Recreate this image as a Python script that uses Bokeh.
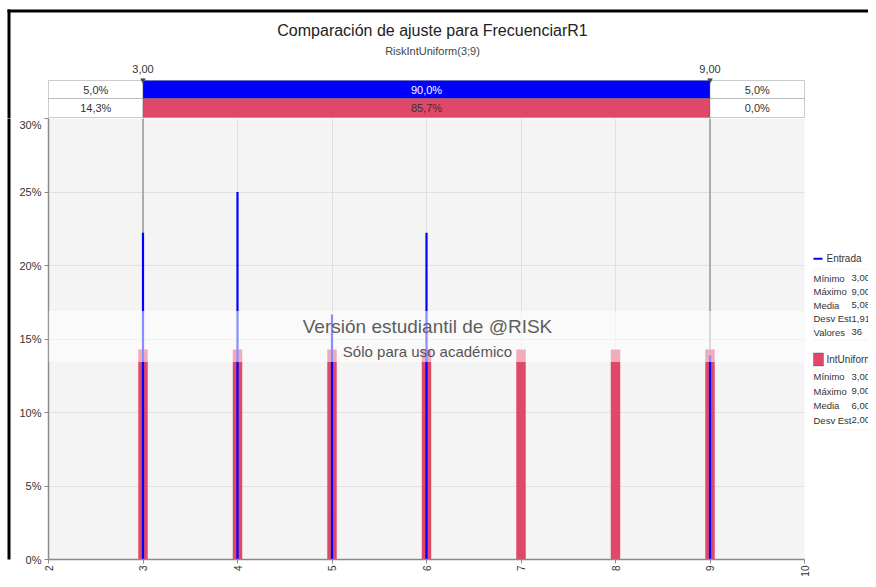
import math
from bokeh.plotting import figure
from bokeh.layouts import column, row
from bokeh.models import BoxAnnotation, Label, Span, FixedTicker, PrintfTickFormatter, Range1d
from bokeh.embed import file_html
from bokeh.resources import INLINE

# ---------------- data ----------------
x_values = [3, 4, 5, 6, 7, 8, 9]
intuniform_pct = [14.29, 14.29, 14.29, 14.29, 14.29, 14.29, 14.29]
entrada_x = [3, 4, 5, 6, 9]
entrada_pct = [22.22, 25.0, 16.67, 22.22, 13.89]
x_ticks = [2, 3, 4, 5, 6, 7, 8, 9, 10]
y_ticks = [0, 5, 10, 15, 20, 25, 30]
marker_values = [3.0, 9.0]
marker_labels = ["3,00", "9,00"]
header_left = ["5,0%", "14,3%"]
header_mid = ["90,0%", "85,7%"]
header_right = ["5,0%", "0,0%"]
entrada_stat_names = ["Mínimo", "Máximo", "Media", "Desv Est", "Valores"]
entrada_stat_values = ["3,0000", "9,0000", "5,0833", "1,9180", "36"]
int_stat_names = ["Mínimo", "Máximo", "Media", "Desv Est"]
int_stat_values = ["3,0000", "9,0000", "6,0000", "2,0000"]

TITLE = "Comparación de ajuste para FrecuenciarR1"
SUBTITLE = "RiskIntUniform(3;9)"
WM1 = "Versión estudiantil de @RISK"
WM2 = "Sólo para uso académico"

BLUE = "#0000FF"
RED = "#E0486A"
FONT = "Liberation Sans"
TXT = "#333333"

# ---------------- geometry (page pixels) ----------------
W, H = 868, 579
STRIP = 11           # left strip holding the black border line
PL, PR = 48, 804     # plot frame left / right
PT, PB = 118, 560    # plot frame top / bottom
LEG_X = 812          # where the legend panel starts
TOP_H = PT
MAIN_W = LEG_X - STRIP
LEG_W = W - LEG_X
MAIN_H = H - TOP_H
XMIN, XMAX, YMIN, YMAX = 2, 10, 0, 30
XS = (XMAX - XMIN) / (PR - PL)   # data per px
YS = (YMAX - YMIN) / (PB - PT)


def dx(sx):
    return XMIN + (sx - PL) * XS


def dy(sy):
    return YMAX - (sy - PT) * YS


def bare(fig, bottom=0):
    fig.xaxis.visible = False
    fig.yaxis.visible = False
    fig.xgrid.visible = False
    fig.ygrid.visible = False
    fig.outline_line_color = None
    fig.background_fill_color = "white"
    fig.border_fill_color = "white"
    fig.min_border = 0
    fig.min_border_left = 0
    fig.min_border_right = 0
    fig.min_border_top = 0
    fig.min_border_bottom = bottom
    return fig


# ---------------- top figure: titles and percentile header ----------------
top = figure(width=W, height=TOP_H, x_range=Range1d(dx(0), dx(W)), y_range=Range1d(TOP_H, 0),
             output_backend="svg", toolbar_location=None)
bare(top)

top.add_layout(Label(x=dx(432), y=30, text=TITLE, text_align="center", text_baseline="middle",
                     text_font=FONT, text_font_size="16px", text_color="#222222"))
top.add_layout(Label(x=dx(432), y=50, text=SUBTITLE, text_align="center", text_baseline="middle",
                     text_font=FONT, text_font_size="11px", text_color="#444444"))

rows = [(80, 98), (98, 117)]
mid_fill = [BLUE, RED]
mid_text = ["white", TXT]
for i, (t, b) in enumerate(rows):
    cells = [(XMIN, marker_values[0], "white", header_left[i], TXT),
             (marker_values[0], marker_values[1], mid_fill[i], header_mid[i], mid_text[i]),
             (marker_values[1], XMAX, "white", header_right[i], TXT)]
    for l, r, fc, txt, tc in cells:
        top.add_layout(BoxAnnotation(left=l, right=r, top=t, bottom=b, fill_color=fc,
                                     fill_alpha=1, line_color="#555555", line_width=1))
        top.add_layout(Label(x=(l + r) / 2, y=(t + b) / 2, text=txt, text_align="center",
                             text_baseline="middle", text_font=FONT, text_font_size="11px",
                             text_color=tc))

for mv, ml in zip(marker_values, marker_labels):
    top.add_layout(Label(x=mv, y=68, text=ml, text_align="center", text_baseline="middle",
                         text_font=FONT, text_font_size="11px", text_color=TXT))
    top.add_layout(Label(x=mv, y=80, text="▼", text_align="center", text_baseline="middle",
                         text_font="DejaVu Sans", text_font_size="7px", text_color="#444444"))

# black screenshot border (top and left)
top.add_layout(BoxAnnotation(left=dx(7), right=dx(W + 5), top=9, bottom=12,
                             fill_color="black", fill_alpha=1, line_color=None))
top.add_layout(BoxAnnotation(left=dx(7), right=dx(10), top=9, bottom=TOP_H + 5,
                             fill_color="black", fill_alpha=1, line_color=None))

# ---------------- left strip ----------------
strip = figure(width=STRIP, height=MAIN_H, x_range=Range1d(0, STRIP), y_range=Range1d(PB, PT),
               output_backend="svg", toolbar_location=None)
bare(strip, bottom=H - PB)
strip.add_layout(BoxAnnotation(left=7, right=10, top=PT - 5, bottom=H + 5,
                               fill_color="black", fill_alpha=1, line_color=None))

# ---------------- main plot ----------------
p = figure(width=MAIN_W, height=MAIN_H, x_range=Range1d(XMIN, XMAX), y_range=Range1d(YMIN, YMAX),
           output_backend="svg", toolbar_location=None,
           min_border_left=PL - STRIP, min_border_right=LEG_X - PR, min_border_top=0,
           min_border_bottom=H - PB)
p.background_fill_color = "#F4F4F4"
p.border_fill_color = "white"
p.outline_line_color = None

p.xaxis.ticker = FixedTicker(ticks=x_ticks)
p.yaxis.ticker = FixedTicker(ticks=y_ticks)
p.yaxis.formatter = PrintfTickFormatter(format="%d%%")
p.xaxis.major_label_orientation = math.pi / 2
for ax in (p.xaxis, p.yaxis):
    ax.axis_line_color = "#8A8A8A"
    ax.axis_line_width = 1.5
    ax.major_tick_line_color = "#8A8A8A"
    ax.major_tick_out = 4
    ax.major_tick_in = 0
    ax.minor_tick_line_color = None
    ax.major_label_text_font = FONT
    ax.major_label_text_color = "#333333"
p.yaxis.major_label_text_font_size = "11px"
p.yaxis.major_label_standoff = 3
p.xaxis.major_label_text_font_size = "10px"
p.xaxis.major_label_standoff = 2
p.xgrid.grid_line_color = "#E0E0E0"
p.ygrid.grid_line_color = "#E0E0E0"

for mv in marker_values:
    p.add_layout(Span(location=mv, dimension="height", line_color="#999999",
                      line_width=1.5, level="underlay"))

p.vbar(x=x_values, top=intuniform_pct, width=0.1, fill_color=RED, line_color=None)
p.segment(x0=entrada_x, y0=[0] * len(entrada_x), x1=entrada_x, y1=entrada_pct,
          line_color=BLUE, line_width=2.2)

p.add_layout(BoxAnnotation(left=XMIN, right=XMAX, bottom=dy(362), top=dy(311),
                           fill_color="white", fill_alpha=0.55, line_color=None))
p.add_layout(Label(x=dx(427), y=dy(326), text=WM1, text_align="center", text_baseline="middle",
                   text_font=FONT, text_font_size="19px", text_color="#5E5E5E"))
p.add_layout(Label(x=dx(427), y=dy(352), text=WM2, text_align="center", text_baseline="middle",
                   text_font=FONT, text_font_size="15px", text_color="#555555"))

# ---------------- legend figure ----------------
leg = figure(width=LEG_W, height=MAIN_H, x_range=Range1d(LEG_X, W), y_range=Range1d(PB, PT),
             output_backend="svg", toolbar_location=None)
bare(leg, bottom=H - PB)
LX, VX = 813, 851
leg.add_layout(BoxAnnotation(left=813, right=822, top=257.5, bottom=259.5,
                             fill_color=BLUE, fill_alpha=1, line_color=None))
leg.add_layout(Label(x=826, y=258.5, text="Entrada", text_baseline="middle",
                     text_font=FONT, text_font_size="10px", text_color=TXT))
leg.add_layout(BoxAnnotation(left=812.5, right=W + 5, top=269, bottom=340,
                             fill_alpha=0, line_color="#D4D4D4", line_width=1))
for i, (nm, vl) in enumerate(zip(entrada_stat_names, entrada_stat_values)):
    yy = 278 + 13.6 * i
    leg.add_layout(Label(x=LX, y=yy, text=nm, text_baseline="middle", text_font=FONT,
                         text_font_size="9.5px", text_color=TXT))
    leg.add_layout(Label(x=VX, y=yy, text=vl, text_baseline="middle", text_align="left",
                         text_font=FONT, text_font_size="9.5px", text_color=TXT))

leg.add_layout(BoxAnnotation(left=813, right=823, top=353, bottom=366,
                             fill_color=RED, fill_alpha=1, line_color="#333333", line_width=1))
leg.add_layout(Label(x=826, y=359.5, text="IntUniform", text_baseline="middle",
                     text_font=FONT, text_font_size="10px", text_color=TXT))
leg.add_layout(BoxAnnotation(left=812.5, right=W + 5, top=371, bottom=430,
                             fill_alpha=0, line_color="#D4D4D4", line_width=1))
for i, (nm, vl) in enumerate(zip(int_stat_names, int_stat_values)):
    yy = 377 + 14.5 * i
    leg.add_layout(Label(x=LX, y=yy, text=nm, text_baseline="middle", text_font=FONT,
                         text_font_size="9.5px", text_color=TXT))
    leg.add_layout(Label(x=VX, y=yy, text=vl, text_baseline="middle", text_align="left",
                         text_font=FONT, text_font_size="9.5px", text_color=TXT))

layout = column(top, row(strip, p, leg, spacing=0), spacing=0)
open("out.html", "w").write(file_html(layout, INLINE))
